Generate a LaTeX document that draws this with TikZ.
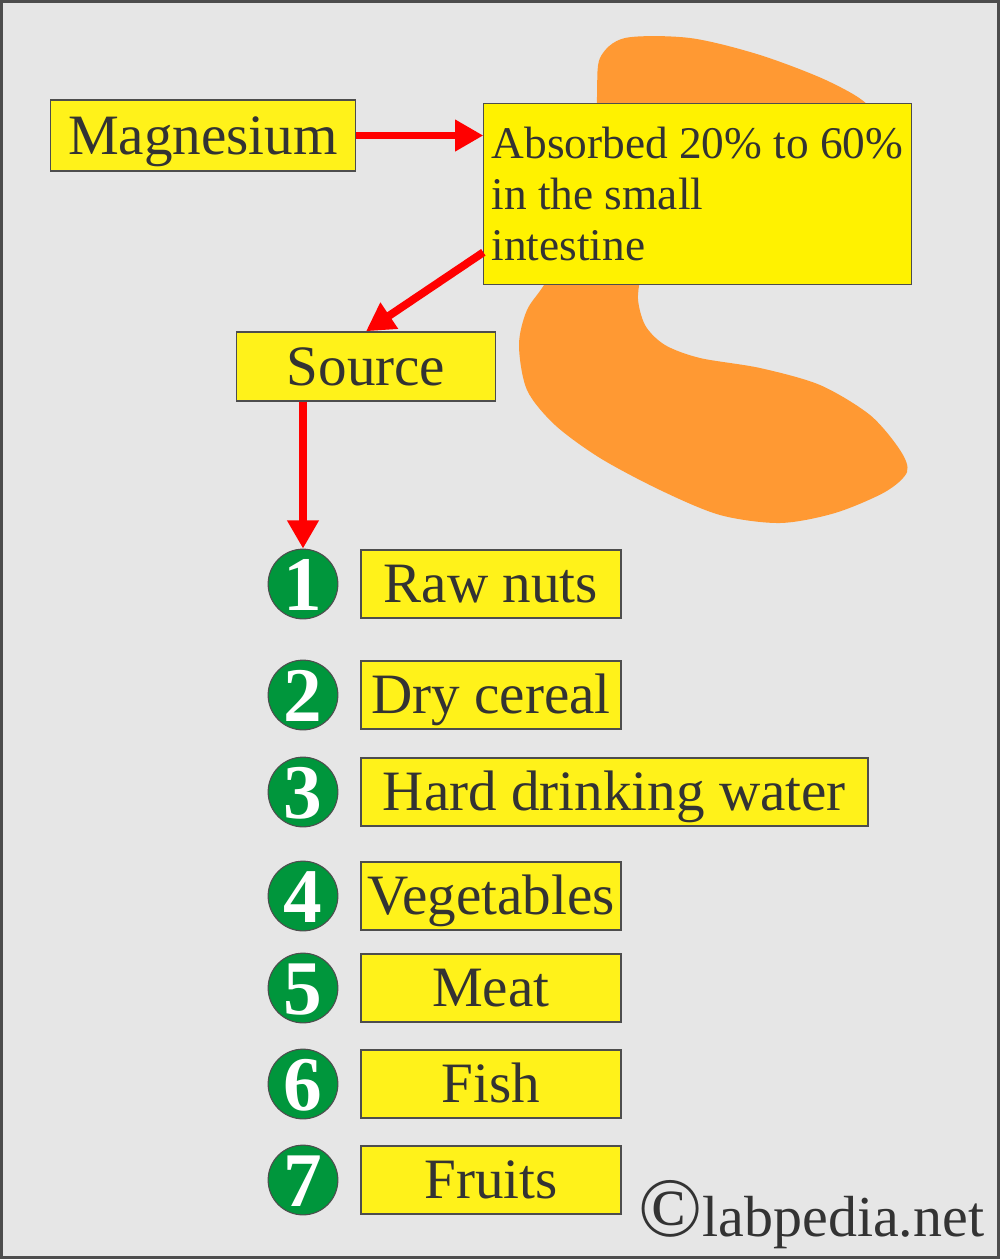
\documentclass[tikz,border=0pt]{standalone}
\usepackage{fontspec}
\setmainfont{Liberation Serif}
\usetikzlibrary{arrows.meta, positioning, calc}
\definecolor{labgray}{HTML}{E6E6E6}
\definecolor{labframe}{HTML}{4D4D4D}
\definecolor{labtext}{HTML}{333333}
\definecolor{labyellow}{HTML}{FFF21A}
\definecolor{labgreen}{HTML}{00963C}
\definecolor{laborange}{HTML}{FF9933}
\definecolor{labred}{HTML}{FF0000}

\begin{document}
\begin{tikzpicture}[x=0.02cm, y=-0.02cm,
    every node/.style = {text=labtext},
    labbox/.style = {draw=labframe, line width=1pt, fill=labyellow},
    yellowbox/.style = {labbox, inner xsep=1pt, inner ysep=0pt, text height=21.5pt, text depth=0pt,
                        font=\fontsize{32.5}{36}\selectfont},
    numdot/.style = {circle, draw=labframe, line width=0.6pt, fill=labgreen, minimum size=39.7pt,
                     inner sep=0pt, text=white, text height=29.7pt, text depth=0pt,
                     font=\fontsize{44}{44}\selectfont\bfseries},
    redarrow/.style = {draw=labred, line width=4.5pt, -{Triangle[length=16pt, width=17pt]}}]
  \useasboundingbox (0,0) rectangle (1000,1259);
  \fill[labgray] (0,0) rectangle (1000,1259);
  \draw[labframe, line width=1.7pt] (1.5,1.5) rectangle (998.5,1257.5);

  % intestine
  \fill[laborange] plot[smooth cycle] coordinates {
    (597,97) (600,58) (625,38) (690,38) (760,55) (830,82) (872,110)
    (880,160) (850,220) (720,250) (650,270) (638,295) (645,325) (665,345)
    (700,358) (760,368) (820,385) (870,415) (900,450) (907,472) (885,492)
    (835,513) (780,523) (720,515) (660,490) (600,458) (555,425) (527,390)
    (519,345) (527,310) (547,280) (575,220) (595,150)};

  \node[yellowbox, minimum width=173.5pt, minimum height=40.3pt] (mg) at (203,135.5) {Magnesium};
  \node[labbox, fill=yellow, line width=0.6pt, align=left, minimum width=243.2pt, minimum height=103.2pt,
        inner sep=0pt, font=\fontsize{25.8}{28.9}\selectfont] (abs) at (697.5,194)
       {Absorbed 20\% to 60\%\\in the small\\intestine};
  \node[yellowbox, minimum width=147.4pt, minimum height=39.1pt] (src) at (366,366.5) {Source};

  \foreach \n/\y/\t/\w in {1/584/Raw nuts/148pt, 2/695/Dry cereal/148pt,
      3/792/Hard drinking water/288.6pt, 4/896/Vegetables/148pt, 5/988/Meat/148pt,
      6/1084/Fish/148pt, 7/1180/Fruits/148pt}{
    \node[numdot] (num\n) at (303,\y) {\n};
    \node[yellowbox, anchor=west, minimum width=\w, minimum height=38.8pt] (item\n) at (360,\y) {\t};
  }

  \draw[redarrow] (mg.east) -- (mg.east -| abs.west);
  \draw[redarrow] ([yshift=18.7pt]abs.south west) -- (src.north);
  \draw[redarrow] (num1 |- src.south) -- (num1.north);

  \node[anchor=base west, inner sep=0pt, font=\fontsize{33}{33}\selectfont] (copy) at (638,1236)
       {{\fontsize{48}{48}\selectfont ©}labpedia.net};
\end{tikzpicture}
\end{document}
